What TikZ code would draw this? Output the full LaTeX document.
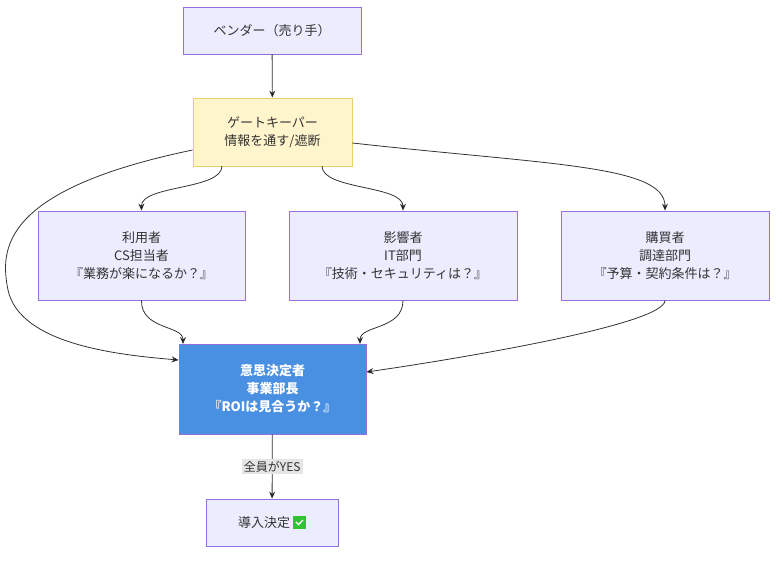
\documentclass[tikz,border=0pt]{standalone}
\usepackage{fontspec}
\setmainfont{Noto Sans CJK JP}
\usetikzlibrary{arrows.meta}
\definecolor{purpleline}{RGB}{147,112,219}
\definecolor{lav}{RGB}{236,236,255}
\definecolor{yline}{RGB}{232,208,110}
\definecolor{yfill}{RGB}{255,245,205}
\definecolor{dblue}{RGB}{74,144,226}
\tikzset{
 box/.style={line width=0.8pt, align=center, font=\fontsize{13}{18}\selectfont, inner sep=0pt},
 std/.style={box, draw=purpleline, fill=lav, text=black!80},
 edge/.style={draw=black!80, line width=0.8pt, -{Stealth[length=7pt,width=6pt]}},
}
\begin{document}
\begin{tikzpicture}[x=1pt,y=-1pt]
\useasboundingbox (0,0) rectangle (784,560);
\node[std, minimum width=178, minimum height=47] (v) at (272,30.5) {ベンダー（売り手）};
\node[box, draw=yline, fill=yfill, text=black!80, minimum width=159, minimum height=68] (g) at (272.5,132) {ゲートキーパー\\情報を通す/遮断};
\node[std, minimum width=207, minimum height=89] (u) at (141.5,255.5) {利用者\\CS担当者\\『業務が楽になるか？』};
\node[std, minimum width=228, minimum height=89] (i) at (403,255.5) {影響者\\IT部門\\『技術・セキュリティは？』};
\node[std, minimum width=208, minimum height=89] (b) at (665,255.5) {購買者\\調達部門\\『予算・契約条件は？』};
\node[box, draw=purpleline, fill=dblue, text=white, font=\fontsize{13}{18}\selectfont\bfseries, minimum width=187, minimum height=90] (d) at (272.5,389) {意思決定者\\事業部長\\『ROIは見合うか？』};
\node[std, minimum width=132, minimum height=47] (f) at (272,522.5) {導入決定 \raisebox{-1pt}{\tikz[x=1pt,y=1pt]{\fill[green!70!black!80] (0,0) rectangle (13,13); \draw[white,line width=1.3pt] (3,7)--(5.6,4.3)--(10,9);}}};
\draw[edge] (v) -- (g);
\draw[edge] (222,166) .. controls (222,190) and (141,185) .. (u.north);
\draw[edge] (322,166) .. controls (322,190) and (403,185) .. (i.north);
\draw[edge] (g.east|-0,143) .. controls (550,165) and (665,165) .. (b.north);
\draw[edge] (g.west|-0,150) .. controls (0,190) and (0,250) .. (8,290) .. controls (20,345) and (120,355) .. (d.west|-0,360);
\draw[edge] (u.south) .. controls (141,330) and (183,325) .. (183,344);
\draw[edge] (i.south) .. controls (403,330) and (360,325) .. (360,344);
\draw[edge] (b.south) .. controls (665,325) and (450,360) .. (d.east|-0,372);
\draw[edge] (d) -- node[fill=black!10, font=\fontsize{12}{14}\selectfont, text=black!80, inner sep=2pt] {全員がYES} (f);
\end{tikzpicture}
\end{document}
